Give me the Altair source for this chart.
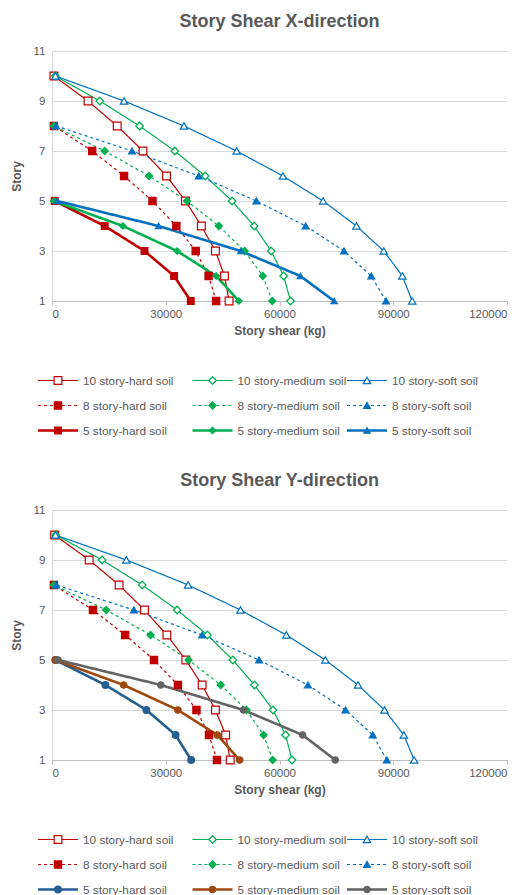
import altair as alt
import pandas as pd

# ---------------- data ----------------
series = ["10 story-hard soil", "10 story-medium soil", "10 story-soft soil",
          "8 story-hard soil", "8 story-medium soil", "8 story-soft soil",
          "5 story-hard soil", "5 story-medium soil", "5 story-soft soil"]

stories10 = [10, 9, 8, 7, 6, 5, 4, 3, 2, 1]
stories8 = [8, 7, 6, 5, 4, 3, 2, 1]
stories5 = [5, 4, 3, 2, 1]

# X-direction story shear (kg)
x_10_hard = [500, 9500, 17200, 24000, 30200, 35200, 39400, 43100, 45500, 46700]
x_10_medium = [900, 12600, 23100, 32400, 40400, 47500, 53300, 57800, 61100, 62900]
x_10_soft = [900, 19000, 34800, 48700, 60900, 71500, 80300, 87500, 92400, 95000]
x_8_hard = [500, 10600, 19000, 26500, 32800, 37900, 41300, 43300]
x_8_medium = [500, 13900, 25600, 35600, 44000, 50800, 55600, 58100]
x_8_soft = [1100, 21100, 38700, 53900, 66900, 77000, 84200, 88100]
x_5_hard = [700, 13900, 24400, 32200, 36600]
x_5_medium = [500, 18700, 33000, 43300, 49300]
x_5_soft = [1400, 28100, 49800, 65500, 74400]

# Y-direction story shear (kg)
y_10_hard = [700, 9800, 17700, 24400, 30300, 35300, 39600, 43100, 45800, 47000]
y_10_medium = [1000, 13200, 23800, 33000, 41000, 47700, 53400, 58300, 61600, 63300]
y_10_soft = [900, 19600, 35900, 49700, 61800, 72100, 80700, 87700, 92800, 95500]
y_8_hard = [500, 10800, 19300, 26900, 33200, 38100, 41400, 43500]
y_8_medium = [500, 14300, 26000, 36000, 44500, 51300, 55800, 58200]
y_8_soft = [1100, 21600, 39600, 54600, 67500, 77400, 84600, 88300]
y_5_hard = [900, 14100, 24900, 32600, 36700]
y_5_medium = [900, 18900, 33200, 43600, 49500]
y_5_soft = [1600, 28700, 50500, 66100, 74700]

x_ticks = [0, 30000, 60000, 90000, 120000]
y_ticks = [1, 3, 5, 7, 9, 11]

# ---------------- styles ----------------
TXT = "#595959"
FONT = "Liberation Sans"
colors_x = ["#C00000", "#00B050", "#0070C0"] * 3
colors_y = ["#C00000", "#00B050", "#0070C0"] * 2 + ["#255E91", "#9E480E", "#636363"]
groups = [(series[0:3], [1, 0], 1.2), (series[3:6], [3, 3], 1.2), (series[6:9], [1, 0], 2.6)]
shapes_x = ["square", "diamond", "triangle-up"] * 3
shapes_y = ["square", "diamond", "triangle-up"] * 2 + ["circle"] * 3
sizes_x = [60, 40, 70, 55, 40, 70, 55, 40, 70]
sizes_y = [60, 40, 70, 55, 40, 70, 55, 55, 55]


def build_df(vals):
    rows = []
    st = [stories10] * 3 + [stories8] * 3 + [stories5] * 3
    for name, s, v in zip(series, st, vals):
        for a, b in zip(s, v):
            rows.append({"series": name, "story": a, "shear": b})
    return pd.DataFrame(rows)


df_x = build_df([x_10_hard, x_10_medium, x_10_soft, x_8_hard, x_8_medium,
                 x_8_soft, x_5_hard, x_5_medium, x_5_soft])
df_y = build_df([y_10_hard, y_10_medium, y_10_soft, y_8_hard, y_8_medium,
                 y_8_soft, y_5_hard, y_5_medium, y_5_soft])


def encs(colors, shapes, sizes):
    fills = ["white"] * 3 + colors[3:]
    return dict(
        color=alt.Color("series:N", scale=alt.Scale(domain=series, range=colors), legend=None),
        stroke=alt.Stroke("series:N", scale=alt.Scale(domain=series, range=colors), legend=None),
        fill=alt.Fill("series:N", scale=alt.Scale(domain=series, range=fills), legend=None),
        shape=alt.Shape("series:N", scale=alt.Scale(domain=series, range=shapes), legend=None),
        size=alt.Size("series:N", scale=alt.Scale(domain=series, range=sizes), legend=None),
    )


def plot(df, title, colors, shapes, sizes):
    e = encs(colors, shapes, sizes)
    x = alt.X("shear:Q", scale=alt.Scale(domain=[0, 120000], nice=False),
              axis=alt.Axis(values=x_ticks, format="d", title="Story shear (kg)",
                            grid=False, domainColor="#BFBFBF", tickColor="#BFBFBF",
                            tickSize=4, labelPadding=3, titlePadding=6))
    y = alt.Y("story:Q", scale=alt.Scale(domain=[1, 11], nice=False),
              axis=alt.Axis(values=y_ticks, title="Story", grid=True, gridColor="#D9D9D9",
                            domainColor="#D9D9D9", ticks=False, labelPadding=7,
                            titlePadding=10))
    base = alt.Chart(df)
    layers = []
    for names, dash, w in groups:
        layers.append(
            base.mark_line(strokeWidth=w, strokeDash=dash)
            .transform_filter(alt.FieldOneOfPredicate(field="series", oneOf=names))
            .encode(x=x, y=y, color=e["color"], order=alt.Order("story:Q"),
                    detail="series:N"))
    pts = base.mark_point(filled=True, opacity=1, strokeWidth=1.2).encode(
        x=x, y=y, shape=e["shape"], fill=e["fill"], stroke=e["stroke"], size=e["size"])
    return alt.layer(*layers, pts).properties(
        width=455, height=250,
        title=alt.TitleParams(title, fontSize=18, fontWeight="bold", color=TXT, font=FONT,
                              offset=14, anchor="middle"))


def legend(colors, shapes, sizes):
    e = encs(colors, shapes, sizes)
    ldf = pd.DataFrame({"series": series,
                        "col": [i % 3 for i in range(9)],
                        "row": [i // 3 for i in range(9)]})
    x = alt.X("col:Q", scale=alt.Scale(domain=[0, 2], range=[-14, 295]), axis=None)
    y = alt.Y("row:Q", scale=alt.Scale(domain=[-0.5, 2.5], range=[0, 75]), axis=None)
    base = alt.Chart(ldf)
    layers = []
    for names, dash, w in groups:
        layers.append(
            base.mark_rule(x2Offset=40, strokeWidth=w, strokeDash=dash)
            .transform_filter(alt.FieldOneOfPredicate(field="series", oneOf=names))
            .encode(x=x, x2="col:Q", y=y, color=e["color"]))
    pts = base.mark_point(filled=True, opacity=1, strokeWidth=1.2, xOffset=20).encode(
        x=x, y=y, shape=e["shape"], fill=e["fill"], stroke=e["stroke"], size=e["size"])
    txt = base.mark_text(align="left", baseline="middle", xOffset=45, fontSize=11.8,
                         color=TXT, font=FONT).encode(x=x, y=y, text="series:N")
    return alt.layer(*layers, pts, txt).properties(width=455, height=75)


top = alt.vconcat(plot(df_x, "Story Shear X-direction", colors_x, shapes_x, sizes_x),
                  legend(colors_x, shapes_x, sizes_x), spacing=31)
bottom = alt.vconcat(plot(df_y, "Story Shear Y-direction", colors_y, shapes_y, sizes_y),
                     legend(colors_y, shapes_y, sizes_y), spacing=31)

chart = alt.vconcat(top, bottom, spacing=29).resolve_scale(
    color="independent", stroke="independent", fill="independent",
    shape="independent", size="independent"
).properties(
    padding={"left": 10, "top": 13, "right": 0, "bottom": 0},
    background="white"
).configure_view(stroke=None).configure_axis(
    labelFont=FONT, titleFont=FONT, labelColor=TXT, titleColor=TXT,
    labelFontSize=11.5, titleFontSize=12, titleFontWeight="bold"
)

chart.save("out.html", embed_options={"renderer": "svg", "actions": False})
